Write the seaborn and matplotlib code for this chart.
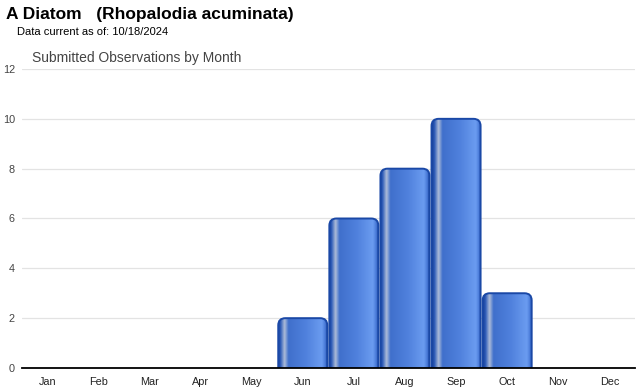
import matplotlib
matplotlib.use("Agg")
import matplotlib.pyplot as plt
from matplotlib.colors import LinearSegmentedColormap
from matplotlib.patches import FancyBboxPatch
import numpy as np
import pandas as pd
import seaborn as sns

months = ["Jan", "Feb", "Mar", "Apr", "May", "Jun",
          "Jul", "Aug", "Sep", "Oct", "Nov", "Dec"]
counts = [0, 0, 0, 0, 0, 2, 6, 8, 10, 3, 0, 0]
yticks = [0, 2, 4, 6, 8, 10, 12]

df = pd.DataFrame({"month": months, "count": counts})

sns.set_style("white")
plt.rcParams["font.family"] = ["Liberation Sans", "DejaVu Sans"]

fig = plt.figure(figsize=(6.4, 3.9), dpi=100)
ax = fig.add_axes([0.034, 0.0564, 0.958, 0.7667])

sns.barplot(data=df, x="month", y="count", order=months, width=0.96,
            color="#3a6ad0", ax=ax, zorder=2)

ax.set_xlim(-0.5, 11.5)
ax.set_ylim(0, 12)
ax.set_yticks(yticks)
ax.set_xlabel("")
ax.set_ylabel("")
ax.grid(axis="y", color="#e3e3e3", linewidth=0.9, zorder=0)
ax.set_axisbelow(True)
for s in ["left", "right", "top"]:
    ax.spines[s].set_visible(False)
ax.spines["bottom"].set_color("black")
ax.spines["bottom"].set_linewidth(1.3)
ax.spines["bottom"].set_zorder(5)
ax.tick_params(axis="y", length=0, pad=5, labelsize=7.8, labelcolor="#444444")
ax.tick_params(axis="x", length=3, width=0.8, color="#cccccc", pad=3.5,
               labelsize=7.8, labelcolor="#222222")

# glossy cylinder look for each bar
cmap = LinearSegmentedColormap.from_list("cyl", [
    (0.00, "#163f98"), (0.05, "#2e5cb8"), (0.13, "#aebcd8"),
    (0.21, "#4070cc"), (0.55, "#4f80dc"), (0.88, "#6b9cf0"),
    (0.95, "#4677d6"), (1.00, "#163f98")])
grad = np.linspace(0, 1, 256).reshape(1, -1)
rx = 0.14
asp = (613 / 12) / (299 / 12)
for p in list(ax.patches):
    h = p.get_height()
    x0 = p.get_x()
    w = p.get_width()
    p.set_visible(False)
    if h <= 0:
        continue
    box = FancyBboxPatch((x0, -1), w, h + 1,
                         boxstyle=f"round,pad=0,rounding_size={rx}",
                         mutation_aspect=asp, facecolor="none",
                         edgecolor="#1a48a6", linewidth=1.4, zorder=4)
    ax.add_patch(box)
    im = ax.imshow(grad, cmap=cmap, aspect="auto",
                   extent=(x0, x0 + w, -1, h), zorder=3, interpolation="bilinear")
    im.set_clip_path(box)

ax.set_xlim(-0.5, 11.5)
ax.set_ylim(0, 12)

fig.text(0.009, 0.962, "A Diatom   (Rhopalodia acuminata)", fontsize=12.5,
         fontweight="bold", va="center", color="black")
fig.text(0.027, 0.918, "Data current as of: 10/18/2024", fontsize=8,
         va="center", color="black")
fig.text(0.05, 0.852, "Submitted Observations by Month", fontsize=10,
         va="center", color="#444444")

fig.savefig("out.png", dpi=100)
